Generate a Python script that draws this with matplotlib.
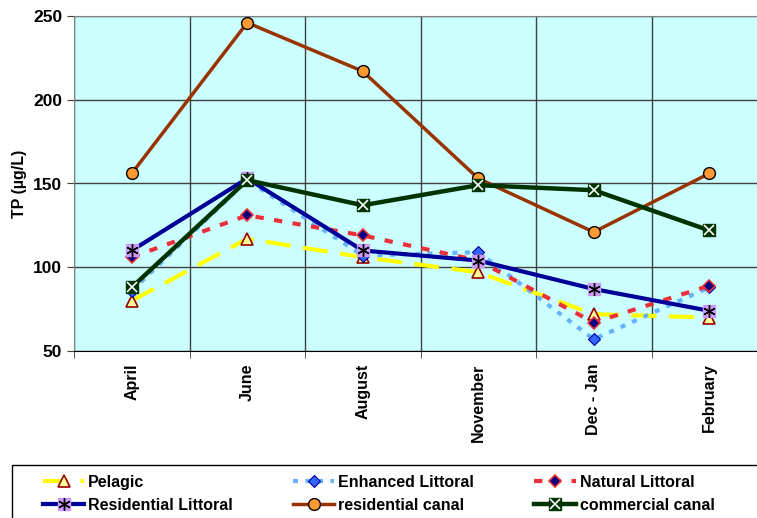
import matplotlib.pyplot as plt
from matplotlib.legend_handler import HandlerTuple
from matplotlib.patches import Rectangle

plt.rcParams['font.family'] = ['Liberation Sans', 'DejaVu Sans']
plt.rcParams['font.weight'] = 'bold'

# sampling periods and TP values (ug/L)
months = ["April", "June", "August", "November", "Dec - Jan", "February"]
pelagic = [80, 117, 106, 97, 72, 70]
enhanced_littoral = [86, 152, 107, 109, 57, 88]
natural_littoral = [106, 131, 119, 104, 67, 89]
residential_littoral = [110, 153, 110, 104, 87, 74]
residential_canal = [156, 246, 217, 153, 121, 156]
commercial_canal = [88, 152, 137, 149, 146, 122]

x = list(range(len(months)))

fig = plt.figure(figsize=(7.57, 5.18), dpi=100)
ax = fig.add_axes([74 / 757, 1 - 351 / 518, 693 / 757, 335 / 518])
ax.set_facecolor('#CCFFFF')

# Pelagic - yellow long dashes
l1, = ax.plot(x, pelagic, color='#FFFF00', lw=3, dashes=(6, 3), marker='^', ms=8,
              mfc='#FFFF99', mec='#990000', mew=1.2, zorder=3)
# Enhanced Littoral - light blue dots
l2, = ax.plot(x, enhanced_littoral, color='#66B2FF', lw=3, dashes=(1.2, 1.8), marker='D', ms=6.5,
              mfc='#3366FF', mec='#000099', mew=0.8, zorder=3)
# Natural Littoral - red short dashes
l3, = ax.plot(x, natural_littoral, color='#E8313A', lw=3, dashes=(2, 2.5), marker='D', ms=6.5,
              mfc='#000080', mec='#E8313A', mew=1.2, zorder=3)
# Residential Littoral
l4, = ax.plot(x, residential_littoral, color='#000099', lw=3, marker='s', ms=8,
              mfc='#CC99FF', mec='#CC99FF', zorder=4)
l4b, = ax.plot(x, residential_littoral, ls='none', marker=(6, 2, 0), ms=9,
               mec='black', mew=1.0, zorder=4)
# residential canal
l5, = ax.plot(x, residential_canal, color='#993300', lw=2.5, marker='o', ms=8.5,
              mfc='#FF9933', mec='black', mew=1.0, zorder=5)
# commercial canal
l6, = ax.plot(x, commercial_canal, color='#003300', lw=3.2, marker='s', ms=8.5,
              mfc='#003300', mec='#003300', zorder=5)
l6b, = ax.plot(x, commercial_canal, ls='none', marker='x', ms=7,
               mec='white', mew=1.2, zorder=5)

ax.set_xlim(-0.5, 5.5)
ax.set_ylim(50, 250)
ax.set_yticks([50, 100, 150, 200, 250])
ax.set_xticks(x)
ax.set_xticklabels(months, rotation=90, fontsize=11.5, fontweight='bold')
ax.set_xticks([i + 0.5 for i in range(-1, 6)], minor=True)
ax.tick_params(axis='x', which='major', length=0, pad=9)
ax.tick_params(axis='x', which='minor', length=5, direction='out', color='#404040')
ax.tick_params(axis='y', length=5, labelsize=12.5, color='#404040')
for lab in ax.get_yticklabels():
    lab.set_fontweight('bold')
ax.grid(axis='y', color='#404040', lw=1)
ax.grid(axis='x', which='minor', color='#404040', lw=1)
ax.set_axisbelow(True)
for s in ['top', 'left', 'right']:
    ax.spines[s].set_color('#808080')
ax.spines['bottom'].set_color('black')

ax.set_ylabel("TP (µg/L)", fontsize=11.5, fontweight='bold')
ax.yaxis.set_label_coords(-0.068, 0.5)

# legend box runs past the right and bottom edges of the picture
fig.patches.append(Rectangle((12 / 757, -0.05), 0.99, 1 - 465 / 518 + 0.05,
                             transform=fig.transFigure, fill=False,
                             edgecolor='black', lw=1.0))

handles = [l1, l2, l3, (l4, l4b), l5, (l6, l6b)]
labels = ["Pelagic", "Enhanced Littoral", "Natural Littoral",
          "Residential Littoral", "residential canal", "commercial canal"]
# legend goes row by row
order = [0, 3, 1, 4, 2, 5]
leg = fig.legend([handles[i] for i in order], [labels[i] for i in order],
                 ncol=3, loc='upper left', bbox_to_anchor=(30 / 757, 1 - 462 / 518),
                 frameon=False, handlelength=2.6, handletextpad=0.25,
                 columnspacing=3.75, borderpad=0.3, labelspacing=0.5,
                 handler_map={tuple: HandlerTuple(ndivide=1)},
                 prop={'weight': 'bold', 'size': 11.5})

fig.savefig('out.png', dpi=100)
